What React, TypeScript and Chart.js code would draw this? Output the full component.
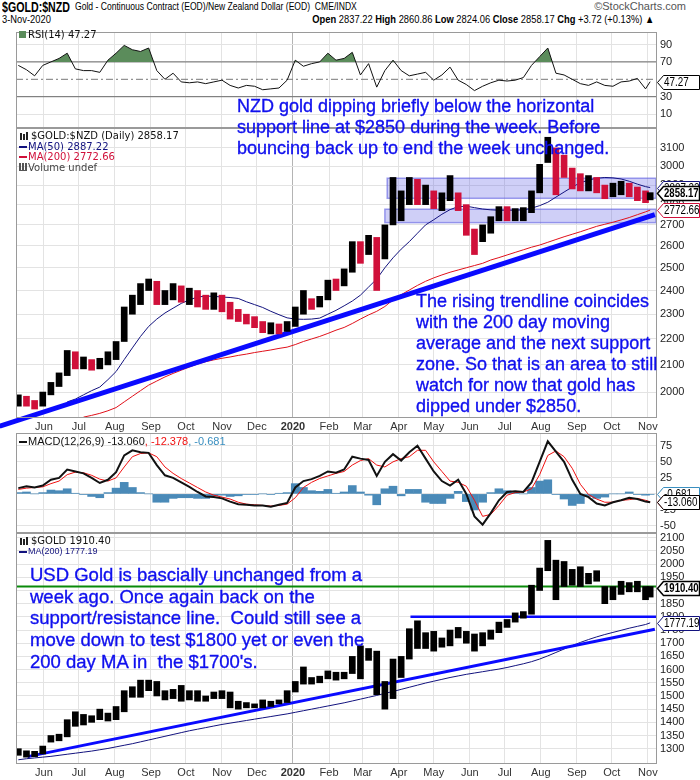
import React, { useEffect, useRef } from 'react';
import { Chart, registerables } from 'chart.js';
Chart.register(...registerables);

const SANS = '"Liberation Sans", Arial, Helvetica, sans-serif';
const VERD = '"DejaVu Sans", Verdana, sans-serif';
const RED = '#d0103a';
const NAVY = '#12127e';
const BLUE = '#0a0aff';
const TEXTBLUE = '#1010ee';

// ---------- data ----------
const weekDates = [
  '2019-05-10','2019-05-17','2019-05-24','2019-05-31','2019-06-07','2019-06-14','2019-06-21','2019-06-28','2019-07-05','2019-07-12',
  '2019-07-19','2019-07-26','2019-08-02','2019-08-09','2019-08-16','2019-08-23','2019-08-30','2019-09-06','2019-09-13','2019-09-20',
  '2019-09-27','2019-10-04','2019-10-11','2019-10-18','2019-10-25','2019-11-01','2019-11-08','2019-11-15','2019-11-22','2019-11-29',
  '2019-12-06','2019-12-13','2019-12-20','2019-12-27','2020-01-03','2020-01-10','2020-01-17','2020-01-24','2020-01-31','2020-02-07',
  '2020-02-14','2020-02-21','2020-02-28','2020-03-06','2020-03-13','2020-03-20','2020-03-27','2020-04-03','2020-04-10','2020-04-17',
  '2020-04-24','2020-05-01','2020-05-08','2020-05-15','2020-05-22','2020-05-29','2020-06-05','2020-06-12','2020-06-19','2020-06-26',
  '2020-07-03','2020-07-10','2020-07-17','2020-07-24','2020-07-31','2020-08-07','2020-08-14','2020-08-21','2020-08-28','2020-09-04',
  '2020-09-11','2020-09-18','2020-09-25','2020-10-02','2020-10-09','2020-10-16','2020-10-23','2020-10-30','2020-11-03',
];

const nzdClose = [
  1975,1965,1955,1990,2020,2060,2125,2100,2110,2095,
  2110,2135,2170,2310,2360,2400,2430,2360,2375,2405,
  2385,2385,2370,2345,2370,2345,2300,2290,2275,2265,
  2240,2240,2235,2255,2310,2355,2345,2360,2430,2425,
  2470,2600,2560,2620,2490,2650,2740,2820,2900,2850,
  2870,2800,2830,2900,2800,2680,2600,2660,2720,2760,
  2745,2755,2760,2850,2990,3130,3000,2980,2910,2905,
  2915,2885,2855,2870,2890,2870,2850,2835,2858.17,
];
const nzdHigh = [
  1990,1985,1970,2000,2035,2070,2155,2150,2130,2120,
  2125,2150,2190,2330,2380,2430,2450,2440,2400,2430,
  2420,2410,2400,2380,2390,2380,2350,2320,2300,2290,
  2270,2265,2260,2270,2330,2400,2365,2375,2445,2450,
  2495,2620,2620,2650,2640,2700,2940,2870,2940,2930,
  2900,2870,2860,2950,2860,2800,2680,2700,2740,2790,
  2790,2780,2785,2870,3010,3160,3100,3060,2990,2960,
  2950,2940,2900,2910,2920,2910,2890,2870,2860.86,
];
const nzdLow = [
  1950,1950,1940,1950,1990,2020,2060,2085,2085,2080,
  2085,2100,2120,2190,2300,2340,2400,2340,2340,2360,
  2350,2340,2330,2320,2320,2310,2280,2270,2260,2245,
  2225,2220,2220,2230,2250,2300,2320,2330,2360,2400,
  2420,2480,2520,2560,2400,2540,2700,2720,2800,2800,
  2800,2780,2770,2820,2770,2650,2560,2620,2660,2720,
  2720,2720,2720,2760,2860,3020,2850,2940,2880,2870,
  2870,2860,2830,2840,2850,2840,2820,2810,2824.06,
];
const nzdMa50 = [
  null,null,null,null,null,null,1965,1975,1990,2005,
  2018,2045,2075,2120,2165,2210,2250,2280,2305,2325,
  2345,2360,2372,2376,2375,2372,2370,2366,2352,2340,
  2328,2312,2298,2285,2280,2279,2280,2284,2300,2316,
  2335,2355,2380,2415,2450,2500,2545,2585,2620,2660,
  2700,2725,2752,2775,2790,2792,2785,2778,2774,2772,
  2772,2772,2774,2782,2795,2812,2838,2864,2890,2912,
  2926,2936,2940,2938,2932,2920,2905,2892,2887.22,
];
const nzdMa200 = [
  null,null,null,null,null,null,null,null,1912,1918,
  1925,1934,1945,1965,1985,2005,2025,2040,2055,2068,
  2080,2092,2103,2112,2119,2125,2130,2136,2141,2147,
  2152,2157,2163,2168,2178,2190,2200,2210,2222,2235,
  2246,2262,2280,2297,2312,2332,2360,2382,2402,2422,
  2440,2455,2468,2480,2490,2500,2510,2520,2535,2546,
  2558,2570,2582,2594,2604,2617,2630,2643,2655,2667,
  2680,2693,2703,2713,2724,2736,2750,2764,2772.66,
];
const nzdTrendDates = ['2019-04-24', '2020-11-07'];
const nzdTrendValues = [1881, 2750];
const zoneStarts = ['2020-03-22', '2020-03-20'];
const zoneLows = [2832, 2711];
const zoneHighs = [2936, 2777];

const rsiValues = [
  66,61,54,66,70,74,80,62,60,60,
  58,72,80,89,84,82,86,60,50,57,
  47,46,47,45,47,49,43,40,43,42,
  38,39,40,49,72,65,68,70,80,72,
  74,81,55,68,41,60,72,60,54,56,
  58,49,55,64,49,44,37,42,46,49,
  48,49,52,66,76,86,57,55,50,45,
  43,47,43,42,47,48,51,39,47.27,
];

const macdLine = [
  9,12,10,13,22,25,38,35,32,25,
  17,22,34,60,68,65,64,45,29,25,
  18,11,3,-4,-5,-7,-12,-16,-17,-18,
  -18,-20,-17,-14,10,20,23,28,35,33,
  38,58,55,53,28,50,62,52,65,75,
  55,35,20,13,22,0,-35,-48,-30,-10,
  3,4,3,18,50,82,66,50,22,0,
  -5,-15,-18,-13,-10,-6,-8,-12,-13.06,
];
const macdSignal = [
  7,9,10,11,16,20,30,34,33,29,
  23,20,25,42,58,63,64,58,42,32,
  24,17,10,3,-2,-5,-8,-13,-16,-17,
  -18,-19,-18,-16,-6,10,18,24,28,32,
  35,45,52,55,45,42,50,55,58,68,
  68,50,35,20,18,12,-10,-35,-32,-18,
  -2,2,3,8,30,60,67,58,40,15,
  -1,-8,-13,-13,-10,-9,-7,-10,-12.378,
];
const macdHist = [
  2,3,0,2,6,5,8,1,-1,-4,
  -6,2,9,18,10,2,0,-13,-13,-7,
  -6,-6,-7,-7,-3,-2,-4,-3,-1,-1,
  0,-1,1,2,16,10,5,4,7,1,
  3,13,3,-2,-17,8,12,-3,7,7,
  -13,-15,-15,-7,4,-12,-25,-13,2,8,
  5,2,0,10,20,22,-1,-8,-18,-15,
  -4,-7,-5,0,0,3,-1,-2,-0.681,
];

const usdClose = [
  1285,1278,1283,1305,1340,1342,1400,1410,1400,1415,
  1425,1420,1445,1500,1525,1530,1530,1510,1500,1515,
  1505,1510,1490,1490,1505,1510,1465,1470,1465,1465,
  1460,1475,1480,1510,1550,1560,1560,1570,1590,1570,
  1585,1645,1590,1670,1530,1500,1620,1625,1750,1695,
  1730,1700,1705,1745,1735,1725,1685,1730,1745,1770,
  1775,1800,1810,1900,1975,2035,1945,1945,1965,1935,
  1945,1950,1865,1900,1920,1905,1905,1880,1910.4,
];
const usdHigh = [
  1300,1292,1290,1310,1350,1355,1410,1440,1430,1425,
  1450,1435,1460,1520,1535,1560,1560,1555,1520,1525,
  1540,1520,1520,1500,1515,1520,1515,1480,1475,1470,
  1485,1480,1485,1520,1555,1610,1570,1575,1595,1590,
  1590,1650,1690,1680,1670,1555,1640,1650,1755,1785,
  1740,1745,1720,1750,1760,1745,1735,1740,1750,1780,
  1790,1815,1820,1920,1985,2090,2015,2010,1980,1990,
  1965,1975,1915,1915,1935,1930,1935,1915,1915,
];
const usdLow = [
  1275,1268,1270,1280,1325,1330,1345,1385,1390,1400,
  1410,1405,1410,1440,1495,1495,1520,1500,1485,1490,
  1480,1485,1480,1480,1490,1490,1455,1450,1455,1455,
  1455,1460,1470,1475,1515,1545,1545,1550,1565,1560,
  1565,1585,1565,1635,1505,1450,1490,1570,1640,1680,
  1680,1670,1685,1690,1720,1700,1670,1690,1715,1740,
  1760,1780,1795,1810,1900,1975,1865,1915,1920,1915,
  1925,1935,1850,1865,1885,1895,1895,1865,1875,
];
const usdMa200 = [
  1258,1262,1265,1268,1271,1275,1279,1283,1287,1291,
  1296,1301,1307,1313,1319,1326,1333,1340,1347,1354,
  1361,1368,1374,1380,1386,1392,1397,1402,1407,1412,
  1417,1422,1427,1432,1438,1444,1450,1456,1462,1468,
  1474,1481,1488,1495,1502,1510,1517,1525,1533,1541,
  1549,1556,1563,1570,1576,1582,1587,1592,1597,1602,
  1608,1615,1622,1630,1640,1652,1665,1678,1691,1703,
  1714,1724,1733,1741,1749,1757,1764,1771,1777.19,
];
const usdTrendDates = ['2019-05-18', '2020-11-07'];
const usdTrendValues = [1270, 1753];
const usdSupportDates = ['2020-04-11', '2020-11-08'];
const usdSupportValue = 1800;
const usdGreenDates = ['2019-05-08', '2020-11-08'];
const usdGreenValue = 1915;

const monthDates = ['2019-06-01','2019-07-01','2019-08-01','2019-09-01','2019-10-01','2019-11-01','2019-12-01','2020-01-01','2020-02-01','2020-03-01','2020-04-01','2020-05-01','2020-06-01','2020-07-01','2020-08-01','2020-09-01','2020-10-01','2020-11-01'];
const monthLabels = ['Jun','Jul','Aug','Sep','Oct','Nov','Dec','2020','Feb','Mar','Apr','May','Jun','Jul','Aug','Sep','Oct','Nov'];
const nzdTicks = [2000,2100,2200,2300,2400,2500,2600,2700,2800,2900,3000,3100];
const usdTicks = [1300,1350,1400,1450,1500,1550,1600,1650,1700,1750,1800,1850,1900,1950,2000,2050,2100];
const rsiTicks = [10,30,70,90];
const macdTicks = [-50,-25,0,25,50,75];
const rsiLines = [70, 30];
const rsiMid = 50;

const axisStart = '2019-05-08';
const axisEnd = '2020-11-08';

// ---------- helpers ----------
const DAY0 = Date.UTC(2019, 5, 1);
const toDay = (s: string) => {
  const [y, m, d] = s.split('-').map(Number);
  return (Date.UTC(y, m - 1, d) - DAY0) / 86400000;
};
const X_MIN = toDay(axisStart);
const X_MAX = toDay(axisEnd);
const monthDays = monthDates.map(toDay);
const labelFor = (v: number) => {
  const i = monthDays.indexOf(v);
  return i >= 0 ? monthLabels[i] : '';
};
const pts = (vals: (number | null)[]) =>
  weekDates
    .map((d, i) => (vals[i] == null ? null : { x: toDay(d), y: vals[i] as number }))
    .filter(Boolean);
const pair = (dates: string[], vals: number[]) => dates.map((d, i) => ({ x: toDay(d), y: vals[i] }));

function xScale(show: boolean, h: number) {
  return {
    type: 'linear',
    min: X_MIN,
    max: X_MAX,
    offset: false,
    afterBuildTicks: (axis: any) => {
      axis.ticks = monthDays.map((v) => ({ value: v }));
    },
    afterFit: (axis: any) => {
      axis.height = h;
      axis.paddingLeft = 0;
      axis.paddingRight = 0;
    },
    grid: {
      offset: false,
      drawTicks: false,
      color: (c: any) => (c.tick && labelFor(c.tick.value) === '2020' ? '#b4b4b4' : '#e3e3e3'),
    },
    border: { display: false },
    ticks: {
      display: show,
      autoSkip: false,
      maxRotation: 0,
      padding: 2,
      color: '#333',
      font: (c: any) => ({ family: SANS, size: 11, weight: c.tick && labelFor(c.tick.value) === '2020' ? 'bold' : 'normal' }),
      callback: (v: any) => labelFor(Number(v)),
    },
  };
}

function yScale(type: string, min: number, max: number, ticks: number[]) {
  return {
    type,
    position: 'right',
    min,
    max,
    afterBuildTicks: (axis: any) => {
      axis.ticks = ticks.map((v) => ({ value: v }));
    },
    afterFit: (axis: any) => {
      axis.width = 44;
      axis.paddingTop = 0;
      axis.paddingBottom = 0;
    },
    grid: { color: '#e3e3e3', drawTicks: false },
    border: { display: false },
    ticks: {
      autoSkip: false,
      padding: 4,
      color: '#222',
      font: { family: SANS, size: 11 },
      callback: (v: any) => String(v),
    },
  };
}

const baseOptions = (scales: any) => ({
  responsive: false,
  maintainAspectRatio: false,
  animation: false,
  devicePixelRatio: 1,
  events: [],
  layout: { padding: { left: 16, right: 0, top: 0, bottom: 0 } },
  plugins: { legend: { display: false }, tooltip: { enabled: false } },
  scales,
});

const framePlugin = {
  id: 'frame',
  afterDraw(chart: any) {
    const { ctx, chartArea: a } = chart;
    ctx.save();
    ctx.strokeStyle = '#9a9a9a';
    ctx.lineWidth = 1;
    ctx.strokeRect(Math.round(a.left) + 0.5, Math.round(a.top) + 0.5, Math.round(a.right - a.left), Math.round(a.bottom - a.top) - 1);
    ctx.restore();
  },
};

type Tag = { value: number; text: string; color: string; bold?: boolean };
function tagPlugin(id: string, tags: Tag[]) {
  return {
    id,
    afterDraw(chart: any) {
      const { ctx, chartArea: a, scales } = chart;
      const y = scales.y;
      tags.forEach((t) => {
        const py = Math.round(y.getPixelForValue(t.value)) + 0.5;
        const x0 = Math.round(a.right) + 1.5;
        ctx.save();
        ctx.beginPath();
        ctx.moveTo(x0, py);
        ctx.lineTo(x0 + 6, py - 7);
        ctx.lineTo(699.5, py - 7);
        ctx.lineTo(699.5, py + 7);
        ctx.lineTo(x0 + 6, py + 7);
        ctx.closePath();
        ctx.fillStyle = '#fff';
        ctx.fill();
        ctx.lineWidth = t.bold ? 1.5 : 1;
        ctx.strokeStyle = t.color;
        ctx.stroke();
        ctx.fillStyle = '#000';
        ctx.font = `${t.bold ? 'bold 12px' : '12px'} ${SANS}`;
        ctx.textBaseline = 'middle';
        ctx.translate(x0 + 6.5, py + 0.5);
        ctx.scale(t.bold ? 0.8 : 0.82, 1);
        ctx.fillText(t.text, 0, 0);
        ctx.restore();
      });
    },
  };
}

const zonesPlugin = {
  id: 'zones',
  beforeDatasetsDraw(chart: any) {
    const { ctx, chartArea: a, scales } = chart;
    zoneStarts.forEach((s, i) => {
      const x0 = scales.x.getPixelForValue(toDay(s));
      const y0 = scales.y.getPixelForValue(zoneHighs[i]);
      const y1 = scales.y.getPixelForValue(zoneLows[i]);
      ctx.save();
      ctx.fillStyle = 'rgba(95,95,230,0.3)';
      ctx.fillRect(x0, y0, a.right - x0, y1 - y0);
      ctx.strokeStyle = 'rgba(95,95,225,0.6)';
      ctx.lineWidth = 1.5;
      ctx.strokeRect(x0, y0, a.right - x0, y1 - y0);
      ctx.restore();
    });
  },
};

const line = (data: any, color: string, width: number, order: number, extra: any = {}) => ({
  type: 'line',
  data,
  borderColor: color,
  borderWidth: width,
  pointRadius: 0,
  fill: false,
  tension: 0,
  order,
  ...extra,
});

// ---------- configs ----------
const rsiConfig = () => ({
  type: 'line',
  data: {
    datasets: [
      line(pts(rsiValues), '#111', 1, 0, { fill: { target: { value: 70 }, above: '#5b8c5b', below: 'rgba(0,0,0,0)' } }),
      ...rsiLines.map((v) => line(pair([axisStart, axisEnd], [v, v]), '#6a6a6a', 1, 2)),
      line(pair([axisStart, axisEnd], [rsiMid, rsiMid]), '#777', 1, 3, { borderDash: [7, 3, 2, 3] }),
    ],
  },
  options: baseOptions({ x: xScale(false, 0), y: yScale('linear', -6, 104.4, rsiTicks) }),
  plugins: [framePlugin, tagPlugin('rsiTags', [{ value: rsiValues[rsiValues.length - 1], text: '47.27', color: '#000' }])],
});

const mainConfig = () => ({
  type: 'bar',
  data: {
    datasets: [
      {
        type: 'bar',
        data: weekDates.map((d, i) => ({ x: toDay(d), y: [nzdLow[i], nzdHigh[i]] })),
        backgroundColor: nzdClose.map((c, i) => (i > 0 && c < nzdClose[i - 1] ? RED : '#000')),
        barThickness: 6,
        order: 0,
      },
      line(pair(nzdTrendDates, nzdTrendValues), BLUE, 5, 1, { clip: false }),
      line(pts(nzdMa50), NAVY, 1, 2),
      line(pts(nzdMa200), '#e0101a', 1, 3),
    ],
  },
  options: baseOptions({ x: xScale(true, 15), y: yScale('logarithmic', 1909, 3213, nzdTicks) }),
  plugins: [
    zonesPlugin,
    framePlugin,
    tagPlugin('nzdTags', [
      { value: nzdMa50[nzdMa50.length - 1] as number, text: '2887.22', color: NAVY },
      { value: nzdMa200[nzdMa200.length - 1] as number, text: '2772.66', color: RED },
      { value: nzdClose[nzdClose.length - 1], text: '2858.17', color: '#000', bold: true },
    ]),
  ],
});

const macdConfig = () => ({
  type: 'bar',
  data: {
    datasets: [
      line(pts(macdLine), '#111', 2, 0),
      line(pts(macdSignal), '#f01010', 1, 1),
      {
        type: 'bar',
        data: pts(macdHist),
        backgroundColor: '#4a8ab8',
        borderWidth: 0,
        barThickness: 8,
        order: 2,
      },
    ],
  },
  options: baseOptions({ x: xScale(false, 0), y: yScale('linear', -61, 95, macdTicks) }),
  plugins: [
    framePlugin,
    tagPlugin('macdTags', [
      { value: macdHist[macdHist.length - 1], text: '-0.681', color: '#3a8fc0' },
      { value: macdSignal[macdSignal.length - 1], text: '-12.378', color: '#f01010' },
      { value: macdLine[macdLine.length - 1], text: '-13.060', color: '#000' },
    ]),
  ],
});

const usdConfig = () => ({
  type: 'bar',
  data: {
    datasets: [
      {
        type: 'bar',
        data: weekDates.map((d, i) => ({ x: toDay(d), y: [usdLow[i], usdHigh[i]] })),
        backgroundColor: '#000',
        barThickness: 6,
        order: 0,
      },
      line(pair(usdGreenDates, [usdGreenValue, usdGreenValue]), '#0a8a0a', 2, 1),
      line(pair(usdSupportDates, [usdSupportValue, usdSupportValue]), BLUE, 2.5, 2),
      line(pair(usdTrendDates, usdTrendValues), BLUE, 3, 3),
      line(pts(usdMa200), NAVY, 1, 4),
    ],
  },
  options: baseOptions({ x: xScale(true, 16), y: yScale('linear', 1242, 2118, usdTicks) }),
  plugins: [
    framePlugin,
    tagPlugin('usdTags', [
      { value: usdMa200[usdMa200.length - 1], text: '1777.19', color: NAVY },
      { value: usdClose[usdClose.length - 1], text: '1910.40', color: '#000', bold: true },
    ]),
  ],
});

function ChartCanvas({ top, height, build }: { top: number; height: number; build: () => any }) {
  const ref = useRef<HTMLCanvasElement>(null);
  useEffect(() => {
    const chart = new Chart(ref.current as HTMLCanvasElement, build() as any);
    return () => chart.destroy();
  }, []);
  return (
    <canvas
      ref={ref}
      width={700}
      height={height}
      style={{ position: 'absolute', left: 0, top, width: 700, height, display: 'block' }}
    />
  );
}

const abs = (left: number, top: number, style: any = {}) => ({ position: 'absolute' as const, left, top, whiteSpace: 'nowrap' as const, ...style });
const dash = (color: string) => (
  <span style={{ display: 'inline-block', width: 8, height: 2, background: color, verticalAlign: 'middle', marginRight: 1 }} />
);
const ohlcIcon = (
  <span style={{ display: 'inline-block', width: 10, height: 9, verticalAlign: 'middle', marginRight: 2, position: 'relative' }}>
    <span style={{ position: 'absolute', left: 1, top: 1, width: 2, height: 7, background: '#222' }} />
    <span style={{ position: 'absolute', left: 4, top: 2, width: 2, height: 6, background: '#222' }} />
    <span style={{ position: 'absolute', left: 7, top: 0, width: 2, height: 8, background: '#222' }} />
  </span>
);

export default function App() {
  const note = { font: `18px ${SANS}`, color: TEXTBLUE, lineHeight: '21px', WebkitTextStroke: `0.35px ${TEXTBLUE}` };
  return (
    <div style={{ position: 'absolute', left: 0, top: 0, width: 700, height: 780, background: '#fff', overflow: 'hidden', fontFamily: SANS, color: '#000' }}>
      <ChartCanvas top={32} height={96} build={rsiConfig} />
      <ChartCanvas top={128} height={305} build={mainConfig} />
      <ChartCanvas top={433} height={100} build={macdConfig} />
      <ChartCanvas top={533} height={247} build={usdConfig} />

      {/* header */}
      <div style={abs(2, -1, { font: `bold 14px ${SANS}`, transform: 'scaleX(0.76)', transformOrigin: '0 0' })}>$GOLD:$NZD</div>
      <div style={abs(75, 0, { font: `11px ${SANS}`, transform: 'scaleX(0.78)', transformOrigin: '0 0' })}>
        Gold - Continuous Contract (EOD)/New Zealand Dollar (EOD)&nbsp;&nbsp;CME/INDX
      </div>
      <div style={{ position: 'absolute', right: 14, top: 0, font: `11px ${SANS}`, color: '#555', whiteSpace: 'nowrap' }}>©StockCharts.com</div>
      <div style={abs(2, 13, { font: `11px ${SANS}`, transform: 'scaleX(0.85)', transformOrigin: '0 0' })}>3-Nov-2020</div>
      <div style={{ position: 'absolute', right: 46, top: 13, font: `11px ${SANS}`, whiteSpace: 'nowrap', transform: 'scaleX(0.85)', transformOrigin: '100% 0' }}>
        <b>Open</b> 2837.22 <b>High</b> 2860.86 <b>Low</b> 2824.06 <b>Close</b> 2858.17 <b>Chg</b> +3.72 (+0.13%) ▲
      </div>

      {/* RSI legend */}
      <div style={abs(19, 29, { font: `10px ${VERD}`, color: '#111' })}>
        <span style={{ display: 'inline-block', width: 7, height: 7, background: '#5b8c5b', marginRight: 2 }} />RSI(14) 47.27
      </div>

      {/* main legend */}
      <div style={abs(19, 131, { font: `10px ${VERD}`, lineHeight: '10.5px' })}>
        <div style={{ color: '#111' }}>{ohlcIcon}$GOLD:$NZD (Daily) 2858.17</div>
        <div style={{ color: NAVY }}>{dash(NAVY)}MA(50) 2887.22</div>
        <div style={{ color: RED }}>{dash(RED)}MA(200) 2772.66</div>
        <div style={{ color: '#444' }}>
          <span style={{ display: 'inline-block', width: 8, height: 7, borderBottom: '1px solid #555', background: 'repeating-linear-gradient(90deg,#555 0 2px,transparent 2px 3px)', marginRight: 1 }} />
          Volume undef
        </div>
      </div>

      {/* MACD legend */}
      <div style={abs(19, 435, { font: `11px ${SANS}` })}>
        {dash('#111')}<span style={{ color: '#111' }}>MACD(12,26,9) -13.060</span>
        <span style={{ color: '#f01010' }}>, -12.378</span>
        <span style={{ color: '#3a8fc0' }}>, -0.681</span>
      </div>

      {/* USD legend */}
      <div style={abs(19, 535, { font: `10px ${VERD}`, color: '#111' })}>{ohlcIcon}$GOLD 1910.40</div>
      <div style={abs(19, 546, { font: `9px ${SANS}`, color: NAVY })}>{dash(NAVY)}MA(200) 1777.19</div>

      {/* annotations */}
      <div style={abs(237, 96, note)}>
        NZD gold dipping briefly below the horizontal<br />
        support line at $2850 during the week. Before<br />
        bouncing back up to end the week unchanged.
      </div>
      <div style={abs(416, 291, note)}>
        The rising trendline coincides<br />
        with the 200 day moving<br />
        average and the next support<br />
        zone. So that is an area to still<br />
        watch for now that gold has<br />
        dipped under $2850.
      </div>
      <div style={abs(30, 564, { ...note, font: `18.5px ${SANS}`, lineHeight: '21.7px' })}>
        USD Gold is bascially unchanged from a<br />
        week ago. Once again back on the<br />
        support/resistance line.&nbsp; Could still see a<br />
        move down to test $1800 yet or even the<br />
        200 day MA in&nbsp; the $1700's.
      </div>
    </div>
  );
}
